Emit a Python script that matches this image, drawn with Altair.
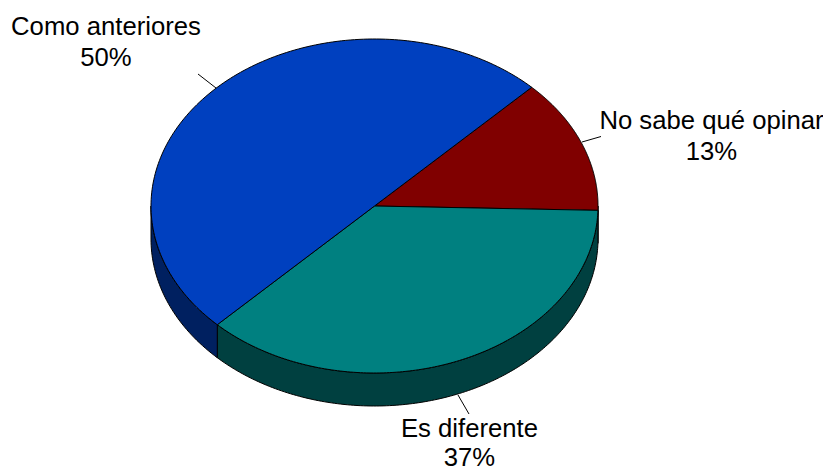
import numpy as np
import pandas as pd
import altair as alt

# Data
categories = ["No sabe qué opinar", "Es diferente", "Como anteriores"]
shares = [13, 37, 50]
top_colors = ["#800000", "#008080", "#0040BF"]
side_colors = ["#400000", "#004040", "#002060"]

# Layout of the tilted pie, in reference-picture pixels
CX, CY, RX, RY, DEPTH = 374.5, 206.0, 223.5, 167.0, 33.0
START_DEG = 45.3
PAGE_W, PAGE_H, MARGIN = 831, 470, 8

label_x = [711.5, 469.5, 106]
label_y = [[129, 160], [437, 466], [35, 66]]
leaders = [[(601, 136.5), (582, 142)], [(469, 414), (458, 395)], [(198, 74), (216, 88)]]

x_scale = alt.Scale(domain=[MARGIN, PAGE_W - MARGIN], nice=False, zero=False)
y_scale = alt.Scale(domain=[MARGIN, PAGE_H], nice=False, zero=False, reverse=True)


def ell(deg, dy=0.0):
    a = np.radians(deg)
    return CX + RX * np.cos(a), CY - RY * np.sin(a) + dy


def poly(points, fill, sw=1.0):
    df = pd.DataFrame(points, columns=["x", "y"])
    df["i"] = range(len(df))
    return alt.Chart(df).mark_line(
        fill=fill, stroke="black", strokeWidth=sw, strokeJoin="round"
    ).encode(
        x=alt.X("x:Q", scale=x_scale, axis=None),
        y=alt.Y("y:Q", scale=y_scale, axis=None),
        order=alt.Order("i:Q"),
    )


layers = []
tops = []
angle = START_DEG
for share, top, side in zip(shares, top_colors, side_colors):
    span = share / sum(shares) * 360.0
    a0, a1 = angle, angle - span
    ts = np.linspace(a0, a1, 160)
    # visible side wall: the part of the slice on the front half (180..360 deg)
    front = [t for t in ts if np.sin(np.radians(t)) <= 1e-9]
    if front:
        upper = [ell(t) for t in front]
        lower = [ell(t, DEPTH) for t in reversed(front)]
        pts = upper + lower + [upper[0]]
        layers.append(poly(pts, side))
    pts = [(CX, CY)] + [ell(t) for t in ts] + [(CX, CY)]
    tops.append(poly(pts, top))
    angle = a1

leader_rows = []
for seg in leaders:
    leader_rows.append({"x": seg[0][0], "y": seg[0][1], "x2": seg[1][0], "y2": seg[1][1]})
leader_chart = alt.Chart(pd.DataFrame(leader_rows)).mark_rule(color="black", strokeWidth=1).encode(
    x=alt.X("x:Q", scale=x_scale, axis=None),
    y=alt.Y("y:Q", scale=y_scale, axis=None),
    x2="x2:Q",
    y2="y2:Q",
)

text_rows = []
for name, share, lx, ly in zip(categories, shares, label_x, label_y):
    text_rows.append({"x": lx, "y": ly[0], "t": name})
    text_rows.append({"x": lx, "y": ly[1], "t": f"{share}%"})
text_chart = alt.Chart(pd.DataFrame(text_rows)).mark_text(
    font="Liberation Sans", fontSize=25.7, color="black", align="center", baseline="alphabetic"
).encode(
    x=alt.X("x:Q", scale=x_scale, axis=None),
    y=alt.Y("y:Q", scale=y_scale, axis=None),
    text="t:N",
)

chart = alt.layer(*layers, *tops, leader_chart, text_chart).properties(
    width=PAGE_W - 2 * MARGIN,
    height=PAGE_H - MARGIN,
    padding=0,
    autosize=alt.AutoSizeParams(type="none"),
    background="white",
).configure_view(stroke=None)

chart.save("out.html", embed_options={"renderer": "svg", "actions": False})
